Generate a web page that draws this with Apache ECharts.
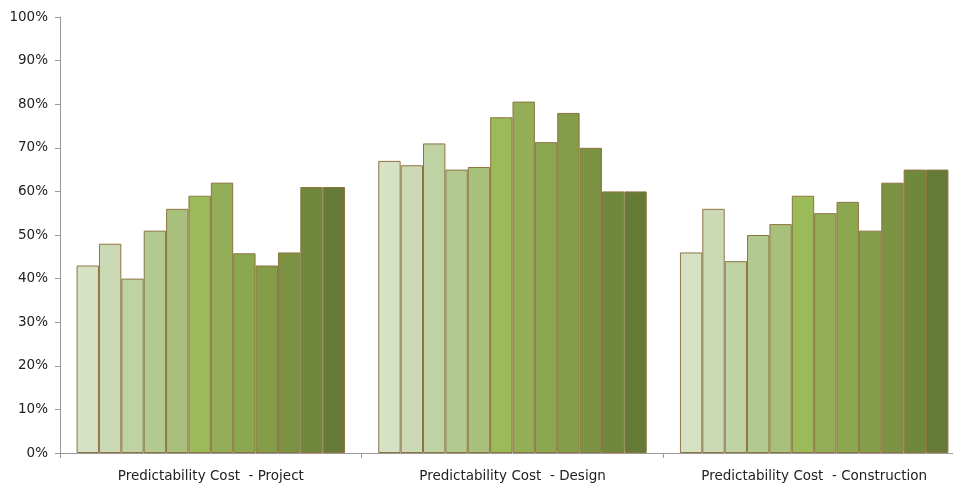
<!DOCTYPE html>
<html>
<head>
<meta charset="utf-8">
<script src="https://cdn.jsdelivr.net/npm/echarts@6/dist/echarts.min.js"></script>
<style>
  html, body { margin: 0; padding: 0; background: #fff; overflow: hidden; }
  /* plot runs a bit past the right edge of the window, like the original */
  #chart { width: 965px; height: 487px; }
</style>
</head>
<body>
<div id="chart"></div>
<script>
// categories on the x axis
const categories = ['Predictability Cost  - Project', 'Predictability Cost  - Design', 'Predictability Cost  - Construction']

// 12 series per category (percent)
const s1  = [43, 67, 46]
const s2  = [48, 66, 56]
const s3  = [40, 71, 44]
const s4  = [51, 65, 50]
const s5  = [56, 65.6, 52.5]
const s6  = [59, 77, 59]
const s7  = [62, 80.6, 55]
const s8  = [45.8, 71.3, 57.6]
const s9  = [43, 78, 51]
const s10 = [46, 70, 62]
const s11 = [61, 60, 65]
const s12 = [61, 60, 65]
const seriesValues = [s1, s2, s3, s4, s5, s6, s7, s8, s9, s10, s11, s12]

// bar fills, light to dark
const colors = ['#d7e2c5', '#cbdab4', '#bfd2a3', '#b2c98f', '#a7c17c', '#9bbb59', '#93ae56', '#8ba74f', '#849d49', '#7a9242', '#70883c', '#667a38']

const chart = echarts.init(document.getElementById('chart'))

const option = {
  animation: false,
  grid: { left: 60, right: 0, top: 17, bottom: 34 },
  xAxis: {
    type: 'category',
    data: categories,
    axisLine: { lineStyle: { color: '#999', width: 1 } },
    axisTick: { show: true, length: 5, lineStyle: { color: '#999' } },
    axisLabel: { color: '#222', fontSize: 13.5, fontFamily: 'DejaVu Sans', margin: 16 }
  },
  yAxis: {
    type: 'value',
    min: 0,
    max: 100,
    interval: 10,
    splitLine: { show: false },
    axisLine: { show: true, lineStyle: { color: '#999' } },
    axisTick: { show: true, length: 5, lineStyle: { color: '#999' } },
    axisLabel: { color: '#222', fontSize: 13.5, fontFamily: 'DejaVu Sans', formatter: '{value}%', margin: 12 }
  },
  series: seriesValues.map((d, i) => ({
    type: 'bar',
    data: d,
    barGap: '0%',
    barCategoryGap: '11%',
    itemStyle: { color: colors[i], borderColor: '#8e7443', borderWidth: 1 }
  }))
}

chart.setOption(option)
</script>
</body>
</html>
